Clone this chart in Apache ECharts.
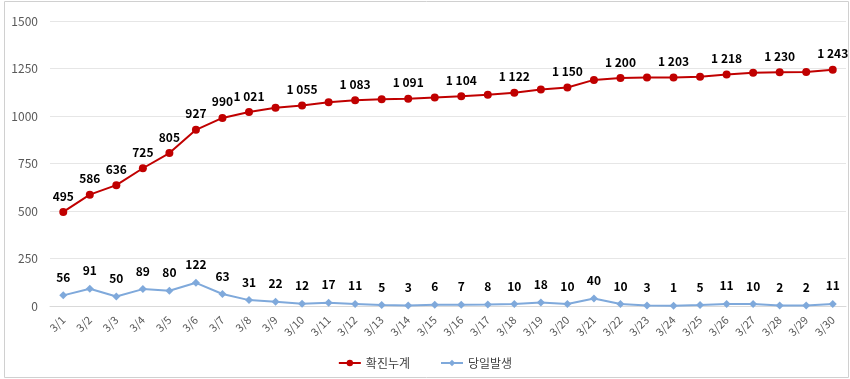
<!DOCTYPE html>
<html><head><meta charset="utf-8">
<script src="https://cdn.jsdelivr.net/npm/echarts@6/dist/echarts.min.js"></script>
<style>html,body{margin:0;padding:0;background:#fff}#c{width:850px;height:379px}</style>
</head><body><div id="c"></div>
<script>
var categories = ['3/1','3/2','3/3','3/4','3/5','3/6','3/7','3/8','3/9','3/10','3/11','3/12','3/13','3/14','3/15','3/16','3/17','3/18','3/19','3/20','3/21','3/22','3/23','3/24','3/25','3/26','3/27','3/28','3/29','3/30'];
var cumulative = [495,586,636,725,805,927,990,1021,1043,1055,1072,1083,1088,1091,1097,1104,1112,1122,1140,1150,1190,1200,1203,1203,1207,1218,1228,1230,1232,1243];
var daily = [56,91,50,89,80,122,63,31,22,12,17,11,5,3,6,7,8,10,18,10,40,10,3,1,5,11,10,2,2,11];
var yTicks = [0,250,500,750,1000,1250,1500];
var seriesNames = ['확진누계','당일발생'];

function fmt(v){ return String(v).replace(/\B(?=(\d{3})+(?!\d))/g,' '); }
var chart = echarts.init(document.getElementById('c'));
var font = '"Noto Sans CJK KR","Noto Sans",sans-serif';
chart.setOption({
  animation:false,
  graphic:[{type:'rect',shape:{x:4.5,y:1.5,width:844,height:376},style:{fill:'none',stroke:'#d0d0d0',lineWidth:1},z:-1}],
  grid:{left:50,right:4,top:21,bottom:73},
  legend:{bottom:5,left:'center',itemGap:30,itemWidth:22,itemHeight:8,
    textStyle:{color:'#404040',fontSize:12,fontFamily:font},
    data:seriesNames},
  xAxis:{type:'category',data:categories,boundaryGap:true,
    axisLine:{lineStyle:{color:'#d9d9d9'}},axisTick:{show:false},
    axisLabel:{rotate:45,color:'#595959',fontSize:11,fontFamily:font,interval:0,margin:12}},
  yAxis:{type:'value',min:yTicks[0],max:yTicks[yTicks.length-1],interval:250,
    axisLine:{show:false},axisTick:{show:false},
    splitLine:{lineStyle:{color:'#e6e6e6'}},
    axisLabel:{color:'#595959',fontSize:12,fontFamily:font,margin:12,formatter:function(v){return String(v);}}},
  series:[
    {name:seriesNames[0],type:'line',data:cumulative,symbol:'circle',symbolSize:8,
      itemStyle:{color:'#c00000'},lineStyle:{color:'#c00000',width:2},
      label:{show:true,position:'top',distance:6,color:'#000',fontWeight:'bold',fontSize:12,fontFamily:font,
        formatter:function(p){ return (p.dataIndex<8 || p.dataIndex%2===1) ? fmt(p.value) : ''; }}},
    {name:seriesNames[1],type:'line',data:daily,symbol:'diamond',symbolSize:8,
      itemStyle:{color:'#7fa9db'},lineStyle:{color:'#7fa9db',width:2},
      label:{show:true,position:'top',distance:8,color:'#000',fontWeight:'bold',fontSize:12,fontFamily:font,
        formatter:function(p){ return fmt(p.value); }}}
  ]
});
</script></body></html>
